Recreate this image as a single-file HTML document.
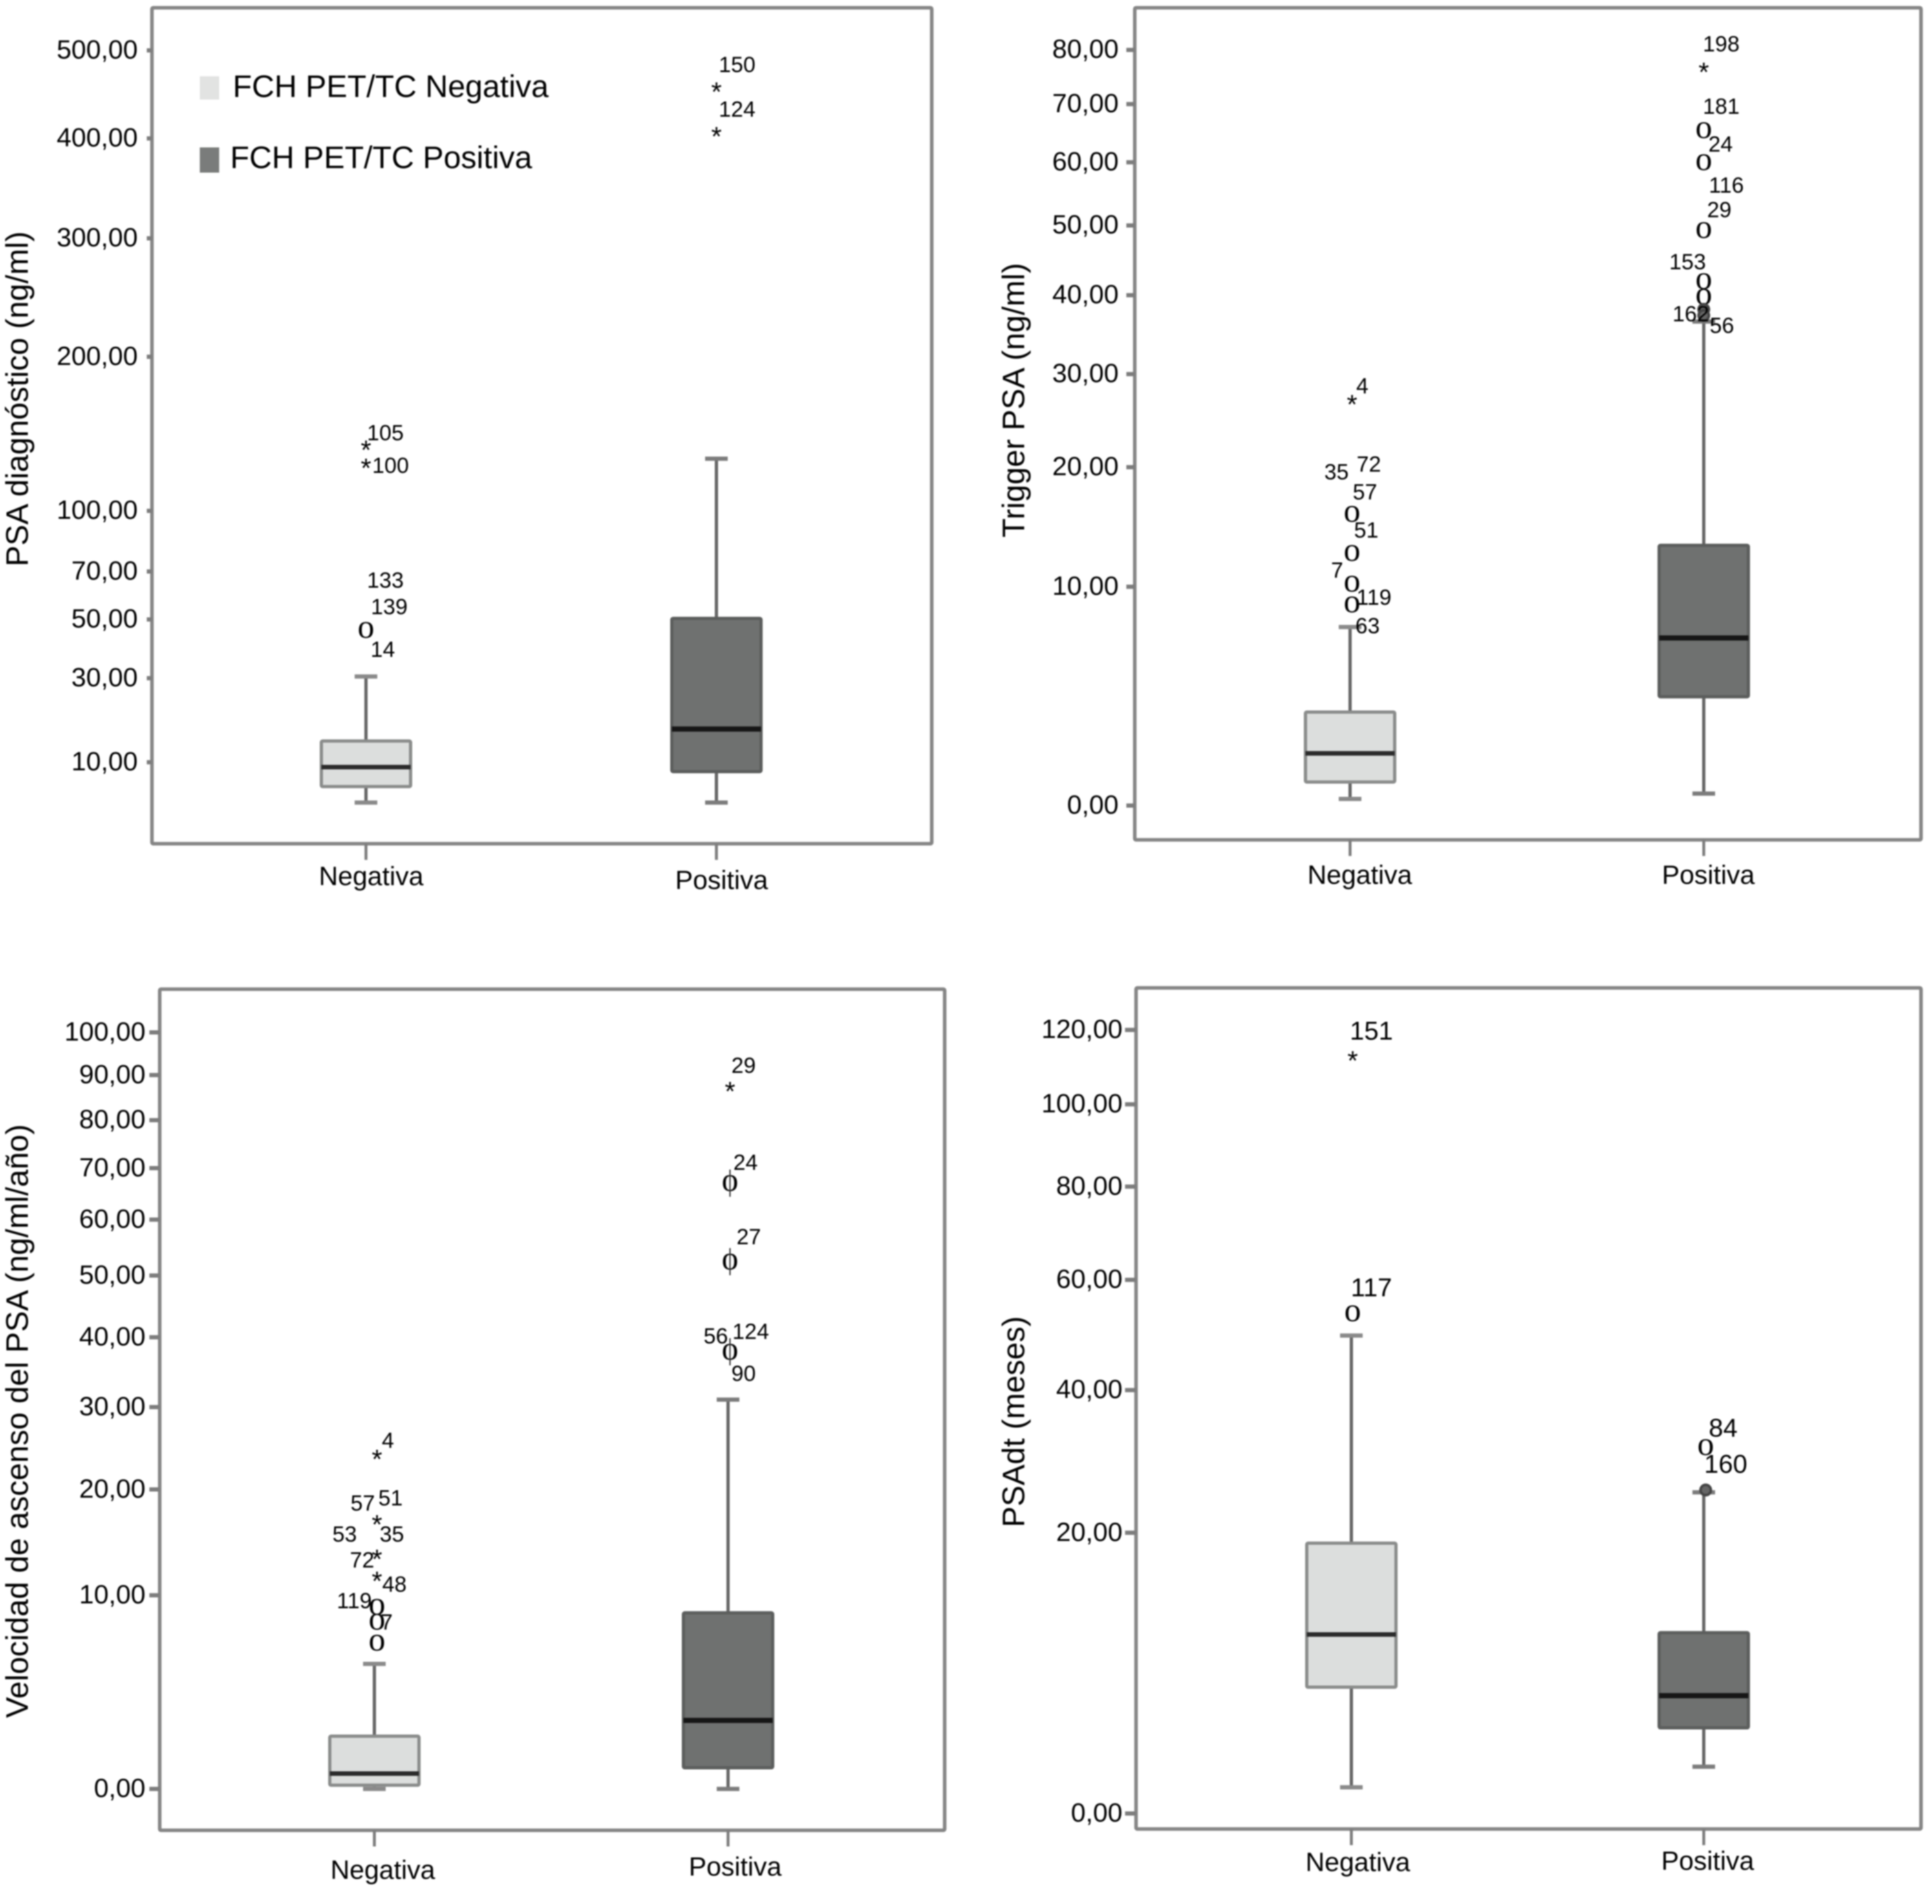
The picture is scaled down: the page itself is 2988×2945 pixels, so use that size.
<!DOCTYPE html>
<html lang="es">
<head>
<meta charset="utf-8">
<title>PSA boxplots por FCH PET/TC</title>
<style>
html,body{margin:0;padding:0;background:#fff;}
body{width:2988px;height:2945px;overflow:hidden;}
svg{display:block;filter:blur(1px);}
text{font-family:"Liberation Sans",sans-serif;fill:#000;}
.mk{font-family:"Liberation Serif",serif;}
</style>
</head>
<body>
<svg id="figure" xmlns="http://www.w3.org/2000/svg" width="2988" height="2945" viewBox="0 0 2988 2945">
  <rect x="0" y="0" width="2988" height="2945" fill="#fff"/>
  <g id="panels"></g>
  <g>
    <rect x="309" y="118" width="30" height="36" fill="#e2e3e2"/>
    <text x="360" y="150" font-size="48.3">FCH PET/TC Negativa</text>
    <rect x="309" y="228" width="30" height="39" fill="#7a7c7b"/>
    <text x="356" y="260" font-size="48.3">FCH PET/TC Positiva</text>
  </g>
</svg>
<script>
// ---------- Data ----------
const categories = ['Negativa', 'Positiva'];

// Box stats order: lower whisker, Q1, median, Q3, upper whisker
const psaTicks = [10, 30, 50, 70, 100, 200, 300, 400, 500];
const psaNegBox = [4.0, 6.1, 9.16, 14.1, 30.5];
const psaPosBox = [4.0, 8.4, 16.7, 50.4, 130];
const psaNegOutliers = [46, 136.4, 125.4];
const psaNegKinds = ['o', '*', '*'];
const psaPosOutliers = [453.5, 404];
const psaPosKinds = ['*', '*'];
const psaCaseIds = ['133', '139', '14', '105', '100', '150', '124'];

const triggerTicks = [0, 10, 20, 30, 40, 50, 60, 70, 80];
const triggerNegBox = [0.146, 0.56, 1.41, 2.96, 7.35];
const triggerPosBox = [0.27, 3.63, 6.7, 13.1, 36.5];
const triggerNegOutliers = [26.7, 15.7, 12.5, 10.2, 8.78];
const triggerNegKinds = ['*', 'o', 'o', 'o', 'o'];
const triggerPosOutliers = [76.1, 65.4, 60, 49.3, 41.9, 39.8, 38.1, 37.3];
const triggerPosKinds = ['*', 'o', 'o', 'o', 'o', 'o', 'd', 'd'];
const triggerCaseIds = ['4', '72', '35', '57', '51', '7', '119', '63', '198', '181', '24', '116', '29', '153', '162', '56'];

const velocityTicks = [0, 10, 20, 30, 40, 50, 60, 70, 80, 90, 100];
const velocityNegBox = [0, 0.09, 0.40, 1.66, 5.23];
const velocityPosBox = [0, 0.57, 2.31, 8.65, 31];
const velocityNegOutliers = [23.65, 16.5, 13.2, 11.3, 9.1, 8, 6.56];
const velocityNegKinds = ['*', '*', '*', '*', 'o', 'o', 'o'];
const velocityPosOutliers = [86.7, 67, 52.4, 37.8];
const velocityPosKinds = ['*', 'p', 'p', 'p'];
const velocityCaseIds = ['4', '57', '51', '53', '35', '72', '48', '119', '7', '29', '24', '27', '56', '124', '90'];

const psadtTicks = [0, 20, 40, 60, 80, 100, 120];
const psadtNegBox = [0.78, 5.82, 9.79, 18.8, 49.4];
const psadtPosBox = [1.55, 3.38, 5.27, 9.94, 25];
const psadtNegOutliers = [112, 53.5];
const psadtNegKinds = ['*', 'o'];
const psadtPosOutliers = [31.2, 25.3];
const psadtPosKinds = ['o', 'd'];
const psadtCaseIds = ['151', '117', '84', '160'];

// ---------- Layout (pixels, separate from data) ----------
const panelLayouts = [
  {key:'psa', title:'PSA diagnóstico (ng/ml)', titleX:27, titleY:617,
   left:235, right:1441, top:12, bottom:1305, anchorValue:10, anchorY:1179, slope:57.75,
   tickLabelX:213, tickX0:227, catX:[566,1108], markDx:[0,0], catLabelX:[574,1116], catLabelY:[1355,1361],
   ticks:psaTicks, boxes:[psaNegBox,psaPosBox], outliers:[psaNegOutliers,psaPosOutliers], kinds:[psaNegKinds,psaPosKinds],
   ids:psaCaseIds, idSize:34,
   idPlace:[[0,0,30,-76],[0,0,36,-35],[0,0,26,31],[0,1,30,-23],[0,2,38,0],[1,0,32,-38],[1,1,32,-38]]},
  {key:'trigger', title:'Trigger PSA (ng/ml)', titleX:1568, titleY:619,
   left:1755, right:2971, top:12, bottom:1299, anchorValue:0, anchorY:1246, slope:146.1,
   tickLabelX:1730, tickX0:1742, catX:[2088,2635], markDx:[3,0], catLabelX:[2103,2642], catLabelY:[1353,1353],
   ticks:triggerTicks, boxes:[triggerNegBox,triggerPosBox], outliers:[triggerNegOutliers,triggerPosOutliers], kinds:[triggerNegKinds,triggerPosKinds],
   ids:triggerCaseIds, idSize:34,
   idPlace:[[0,0,19,-25],[0,1,29,-76],[0,1,-21,-64],[0,1,23,-33],[0,2,25,-34],[0,3,-20,-20],[0,4,37,-10],[0,4,27,34],
            [1,0,27,-40],[1,1,27,-36],[1,2,26,-27],[1,3,35,-68],[1,3,24,-30],[1,4,-25,-29],[1,6,-20,8],[1,7,28,17]]},
  {key:'velocity', title:'Velocidad de ascenso del PSA (ng/ml/año)', titleX:27, titleY:2198,
   left:247, right:1461, top:1530, bottom:2831, anchorValue:0, anchorY:2767, slope:129.3,
   tickLabelX:225, tickX0:231, catX:[579,1126], markDx:[4,3], catLabelX:[592,1137], catLabelY:[2892,2887],
   ticks:velocityTicks, boxes:[velocityNegBox,velocityPosBox], outliers:[velocityNegOutliers,velocityPosOutliers], kinds:[velocityNegKinds,velocityPosKinds],
   ids:velocityCaseIds, idSize:34,
   idPlace:[[0,0,21,-25],[0,1,-18,-29],[0,1,25,-37],[0,1,-46,19],[0,1,27,19],[0,2,-19,5],[0,3,31,9],[0,4,-31,-8],[0,5,19,2],
            [1,0,24,-36],[1,1,27,-31],[1,2,32,-37],[1,3,-19,-23],[1,3,35,-30],[1,3,24,35]]},
  {key:'psadt', title:'PSAdt (meses)', titleX:1568, titleY:2199,
   left:1757, right:2971, top:1528, bottom:2829, anchorValue:0, anchorY:2805, slope:121.2,
   tickLabelX:1736, tickX0:1740, catX:[2090,2635], markDx:[2,3], catLabelX:[2100,2641], catLabelY:[2880,2878],
   ticks:psadtTicks, boxes:[psadtNegBox,psadtPosBox], outliers:[psadtNegOutliers,psadtPosOutliers], kinds:[psadtNegKinds,psadtPosKinds],
   ids:psadtCaseIds, idSize:40,
   idPlace:[[0,0,31,-42],[0,1,31,-39],[1,0,30,-29],[1,0,34,27]]}
];

const boxStyles = [
  {fill:'#dcdedd', stroke:'#8a8c8b', median:'#2b2b2b', medianW:7, whisker:'#666666', cap:'#8a8a8a'},
  {fill:'#6f7170', stroke:'#5c5e5d', median:'#161616', medianW:8, whisker:'#666666', cap:'#7c7c7c'}
];
const BOX_W = 138, CAP_W = 35;
const NS = 'http://www.w3.org/2000/svg';

function make(parent, tag, attrs, name, text) {
  const el = document.createElementNS(NS, tag);
  for (const k in attrs) el.setAttribute(k, attrs[k]);
  
  
  if (text !== undefined) el.textContent = text;
  parent.appendChild(el);
  return el;
}

function yScale(p) {
  const s0 = Math.sqrt(p.anchorValue + 1);
  return v => p.anchorY - p.slope * (Math.sqrt(v + 1) - s0);
}

function fmt(v) { return v.toFixed(2).replace('.', ','); }

function drawOutlier(g, kind, x, y, name) {
  if (kind === '*') {
    make(g, 'text', {x:x, y:y + 17, 'font-size':42, 'text-anchor':'middle'}, name + '-extreme', '*');
  } else if (kind === 'd') {
    make(g, 'circle', {cx:x, cy:y, r:8, fill:'#666', stroke:'#444', 'stroke-width':4}, name + '-overlap');
  } else {
    make(g, 'text', {x:x, y:y + 12, 'font-size':52, 'text-anchor':'middle', class:'mk'}, name + '-circle', 'o');
    if (kind === 'p') {
      make(g, 'line', {x1:x, x2:x, y1:y - 21, y2:y + 21, stroke:'#333', 'stroke-width':2}, name + '-stem');
    }
  }
}

function drawPanel(root, p) {
  const y = yScale(p);
  const g = make(root, 'g', {}, p.key + '-chart');
  make(g, 'rect', {x:p.left, y:p.top, width:p.right - p.left, height:p.bottom - p.top, fill:'none', stroke:'#858585', 'stroke-width':5.5, rx:2}, p.key + '-plot-frame');
  make(g, 'text', {x:p.titleX, y:p.titleY, 'font-size':48.6, 'text-anchor':'middle', 'dominant-baseline':'central',
    transform:'rotate(-90 ' + p.titleX + ' ' + p.titleY + ')'}, p.key + '-y-axis-title', p.title);

  p.ticks.forEach(t => {
    make(g, 'line', {x1:p.tickX0, x2:p.left, y1:y(t), y2:y(t), stroke:'#7d7d7d', 'stroke-width':6.5}, p.key + '-y-tick');
    make(g, 'text', {x:p.tickLabelX, y:y(t) + 12.5, 'font-size':41, 'text-anchor':'end'}, p.key + '-y-tick-label', fmt(t));
  });

  categories.forEach((c, i) => {
    const cx = p.catX[i], st = boxStyles[i], b = p.boxes[i];
    make(g, 'line', {x1:cx, x2:cx, y1:p.bottom, y2:p.bottom + 25, stroke:'#7d7d7d', 'stroke-width':4.5}, p.key + '-x-tick');
    make(g, 'text', {x:p.catLabelX[i], y:p.catLabelY[i] + 14, 'font-size':41, 'text-anchor':'middle'}, p.key + '-x-label-' + c.toLowerCase(), c);

    const box = make(g, 'g', {}, p.key + '-box-' + c.toLowerCase());
    make(box, 'line', {x1:cx, x2:cx, y1:y(b[0]), y2:y(b[4]), stroke:st.whisker, 'stroke-width':5}, 'whisker');
    make(box, 'line', {x1:cx - CAP_W / 2, x2:cx + CAP_W / 2, y1:y(b[0]), y2:y(b[0]), stroke:st.cap, 'stroke-width':6.5}, 'whisker-cap-low');
    make(box, 'line', {x1:cx - CAP_W / 2, x2:cx + CAP_W / 2, y1:y(b[4]), y2:y(b[4]), stroke:st.cap, 'stroke-width':6.5}, 'whisker-cap-high');
    make(box, 'rect', {x:cx - BOX_W / 2, y:y(b[3]), width:BOX_W, height:y(b[1]) - y(b[3]), fill:st.fill, stroke:st.stroke, 'stroke-width':5, rx:2}, 'interquartile-box');
    make(box, 'line', {x1:cx - BOX_W / 2, x2:cx + BOX_W / 2, y1:y(b[2]), y2:y(b[2]), stroke:st.median, 'stroke-width':st.medianW}, 'median-line');

    p.outliers[i].forEach((v, j) => {
      drawOutlier(g, p.kinds[i][j], cx + p.markDx[i], y(v), p.key + '-outlier');
    });
  });

  p.ids.forEach((label, n) => {
    const [grp, idx, dx, dy] = p.idPlace[n];
    const v = p.outliers[grp][idx];
    make(g, 'text', {x:p.catX[grp] + dx, y:y(v) + dy + p.idSize * 0.36 - 2, 'font-size':p.idSize, 'text-anchor':'middle'}, p.key + '-case-id', label);
  });
}

const panelsRoot = document.getElementById('panels');
panelLayouts.forEach(p => drawPanel(panelsRoot, p));
</script>
</body>
</html>
